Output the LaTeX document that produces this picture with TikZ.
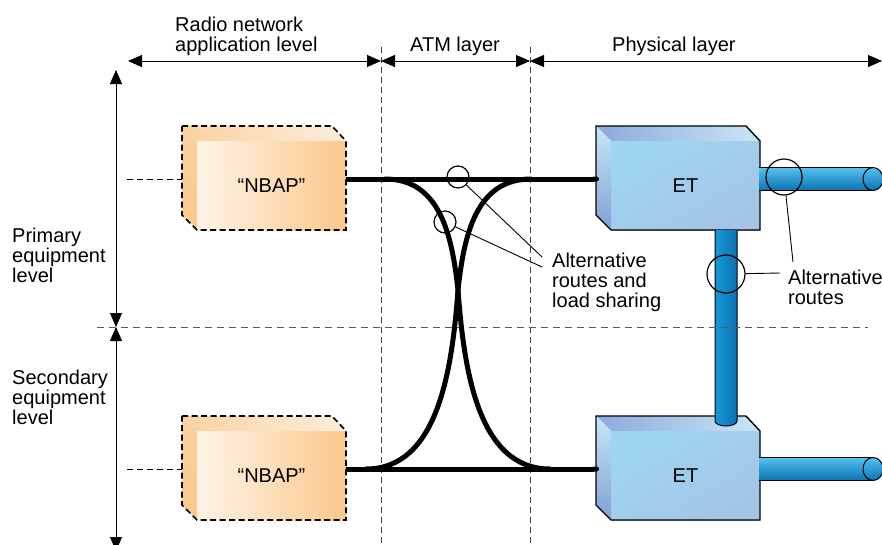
\documentclass[tikz,border=0pt]{standalone}
\usepackage{fontspec}
\setmainfont{Liberation Sans}
\usepackage{tikz}
\usetikzlibrary{arrows.meta,calc,positioning}

\definecolor{nbapPale}{HTML}{FEF4E8}
\definecolor{nbapDeep}{HTML}{FBC88A}
\definecolor{nbapTopA}{HTML}{F9D2A2}
\definecolor{nbapTopB}{HTML}{FDEDDB}
\definecolor{etPale}{HTML}{C6E7F7}
\definecolor{etSky}{HTML}{9ED6F2}
\definecolor{etDusk}{HTML}{A4C4E6}
\definecolor{etTopA}{HTML}{8DA9DC}
\definecolor{etTopB}{HTML}{C9E6F5}
\definecolor{etSideA}{HTML}{C4E8F8}
\definecolor{etSideB}{HTML}{829FD4}
\definecolor{pipeDark}{HTML}{0A72B2}
\definecolor{pipeMid}{HTML}{1898D6}
\definecolor{pipeLight}{HTML}{55C2EE}

\tikzset{
    nbapfront/.style={left color=nbapPale, right color=nbapDeep},
    nbaptop/.style={left color=nbapTopA, right color=nbapTopB},
    nbapside/.style={top color=nbapTopA, bottom color=nbapDeep},
    nbapedge/.style={line width=1.6pt, dash pattern=on 6pt off 3.5pt},
    etfront/.style={top color=etSky, middle color=etPale, bottom color=etDusk, shading angle=30},
    ettop/.style={left color=etTopA, right color=etTopB},
    etside/.style={top color=etSideA, bottom color=etSideB},
    etedge/.style={line width=1.4pt},
    pics/block/.style={code={
        \shade[#1front] (15,15) rectangle (164,104);
        \shade[#1top] (0,0) -- (150,0) -- (164,15) -- (15,15) -- cycle;
        \shade[#1side] (0,0) -- (15,15) -- (15,104) -- (0,89) -- cycle;
        \draw[#1edge] (0,0) -- (150,0) -- (164,15) -- (164,104) -- (15,104) -- (0,89) -- cycle;
        \coordinate (-west) at (0,53);
        \coordinate (-east) at (164,53);
        \coordinate (-port) at (3,53);
        \coordinate (-centre) at (89.5,59.5);
    }},
    lbl/.style={font=\fontsize{20}{20}\selectfont, align=left, inner sep=0pt, anchor=base west},
    boxtext/.style={font=\fontsize{20}{20}\selectfont, inner sep=0pt},
    span/.style={line width=0.9pt, {Triangle[length=14pt,width=12pt]}-{Triangle[length=14pt,width=12pt]}},
    layerline/.style={black!75, line width=0.8pt, dash pattern=on 6pt off 4pt},
    levelline/.style={black!65, line width=0.8pt, dash pattern=on 7pt off 5pt},
    stub/.style={line width=1pt, dash pattern=on 6pt off 4pt},
    route/.style={line width=5pt, -{Round Cap[]}},
    swap/.style={line width=5pt, line cap=round},
    ring/.style={circle, draw, line width=1.2pt, inner sep=0pt, minimum size=#1},
    leader/.style={line width=0.9pt},
    pipeh/.style={top color=pipeLight, middle color=pipeMid, bottom color=pipeDark},
    pipev/.style={left color=pipeMid, middle color=pipeLight, right color=pipeDark},
    pipeedge/.style={line width=1pt}
}

\begin{document}
\begin{tikzpicture}[x=1pt, y=-1pt]
    \useasboundingbox (0,0) rectangle (882,544);
    \clip (0,0) rectangle (882,544);
    %% Layer borders
    \coordinate (sepA) at (381,61);
    \coordinate (sepB) at (530,61);
    \draw[layerline] (381,47) -- (381,544);
    \draw[layerline] (530,47) -- (530,544);
    %% Spans
    \coordinate (radioL) at (128,61);
    \coordinate (physR) at (882,61);
    \coordinate (primT) at (116,70);
    \coordinate (levelM) at (116,327);
    \coordinate (secB) at (116,551);
    \draw[span] (radioL) -- (sepA);
    \draw[span] (sepA) -- (sepB);
    \draw[span] (sepB) -- (physR);
    \draw[span] (primT) -- (levelM);
    \draw[span] (levelM) -- (secB);
    \node[lbl] (radio) at (175,51) {Radio network\\application level};
    \node[lbl] (atm) at (410,51) {ATM layer};
    \node[lbl] (phys) at (612,51) {Physical layer};
    \node[lbl] (prim) at (12,282) {Primary\\equipment\\level};
    \node[lbl] (sec) at (12,424) {Secondary\\equipment\\level};

    %% Boxes
    \pic (nbapA) at (182,126) {block=nbap};
    \pic (nbapB) at (182,416) {block=nbap};
    \pic (etA) at (596,126) {block=et};
    \pic (etB) at (596,416) {block=et};
    \node[boxtext] (nbapAtxt) at (nbapA-centre) {“NBAP”};
    \node[boxtext] (nbapBtxt) at (nbapB-centre) {“NBAP”};
    \node[boxtext] (etAtxt) at (etA-centre) {ET};
    \node[boxtext] (etBtxt) at (etB-centre) {ET};
    \coordinate (stubA) at (127,179);
    \coordinate (stubB) at (127,469);
    \draw[stub] (stubA) -- (nbapA-west);
    \draw[stub] (stubB) -- (nbapB-west);

    %% Pipes
    \shade[pipeh] (759,167.5) rectangle (873,190.5);
    \draw[pipeedge] (759,167.5) -- (873,167.5) (759,190.5) -- (873,190.5);
    \shadedraw[pipeh, pipeedge] (873,179) ellipse [x radius=10, y radius=11.5];
    \shade[pipeh] (759,457.5) rectangle (873,480.5);
    \draw[pipeedge] (759,457.5) -- (873,457.5) (759,480.5) -- (873,480.5);
    \shadedraw[pipeh, pipeedge] (873,469) ellipse [x radius=10, y radius=11.5];
    \shadedraw[pipev, pipeedge] (715,230) -- (715,421) arc[start angle=180, end angle=0, x radius=11, y radius=5] -- (737,230);
    \draw[levelline] (97,327) -- (868,327);

    %% Routes
    \draw[route] (nbapA-east) -- (etA-port);
    \draw[route] (nbapB-east) -- (etB-port);
    \coordinate (cross) at (458,290);
    \draw[swap] (385,179) .. controls (440,179) and (452,235) .. (cross)
        .. controls (464,370) and (478,469) .. (550,469);
    \draw[swap] (531,179) .. controls (476,179) and (464,235) .. (cross)
        .. controls (452,370) and (438,469) .. (366,469);

    %% Callouts
    \node[ring=22pt] (ringC) at (458,177) {};
    \node[ring=22pt] (ringD) at (445,222) {};
    \node[ring=36pt] (ringA) at (784,177) {};
    \node[ring=38pt] (ringB) at (726,274) {};
    \coordinate (tipC) at (542,257);
    \coordinate (tipD) at (542,267);
    \coordinate (tipA) at (793,262);
    \coordinate (tipB) at (780,273);
    \draw[leader] (ringC) -- (tipC);
    \draw[leader] (ringD) -- (tipD);
    \draw[leader] (ringA) -- (tipA);
    \draw[leader] (ringB) -- (tipB);
    \node[lbl] (altA) at (552,307) {Alternative\\routes and\\load sharing};
    \node[lbl] (altB) at (788,304) {Alternative\\routes};
\end{tikzpicture}
\end{document}
